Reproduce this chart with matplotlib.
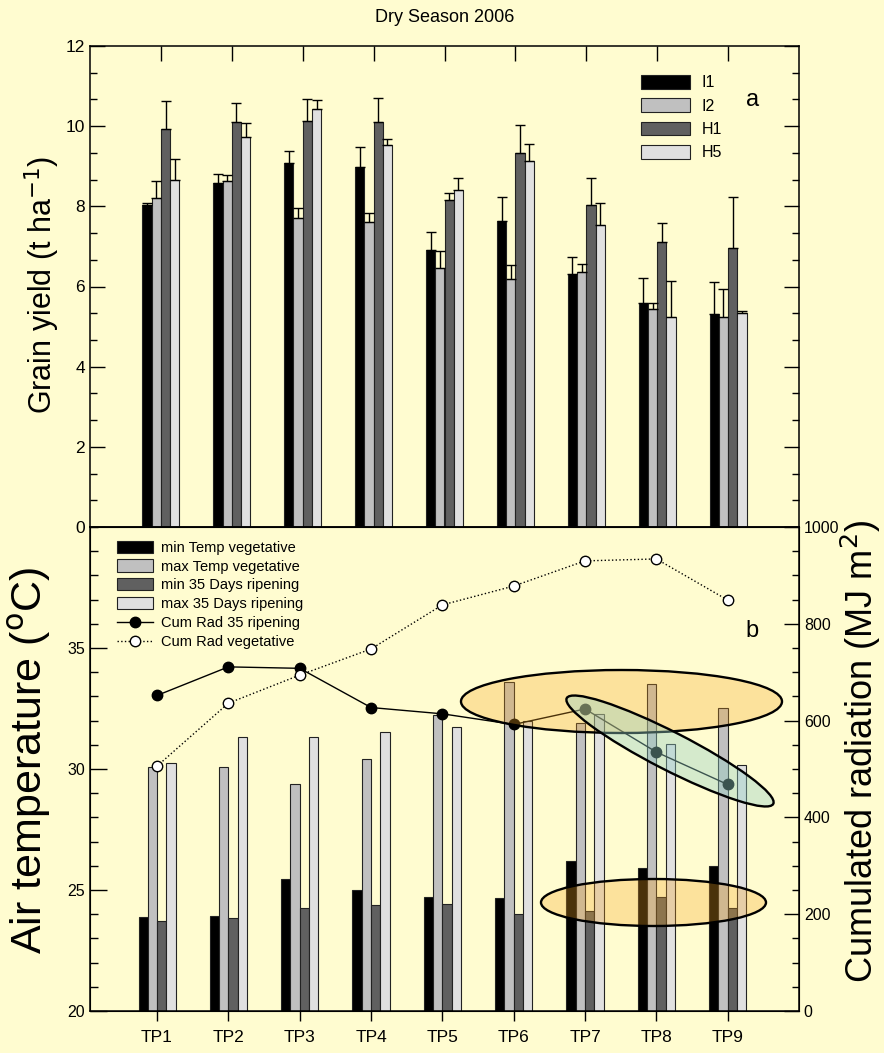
import matplotlib
matplotlib.use('Agg')
import matplotlib.pyplot as plt
import numpy as np
from matplotlib.patches import Ellipse
from matplotlib.ticker import MultipleLocator

plt.rcParams['font.family'] = ['Liberation Sans', 'DejaVu Sans']

# ---------------- data ----------------
points = ['TP1', 'TP2', 'TP3', 'TP4', 'TP5', 'TP6', 'TP7', 'TP8', 'TP9']

yield_I1 = [8.03, 8.58, 9.08, 8.98, 6.91, 7.63, 6.32, 5.59, 5.32]
yield_I2 = [8.20, 8.63, 7.71, 7.60, 6.47, 6.18, 6.35, 5.45, 5.25]
yield_H1 = [9.93, 10.11, 10.13, 10.11, 8.16, 9.34, 8.03, 7.10, 6.95]
yield_H5 = [8.66, 9.72, 10.43, 9.53, 8.40, 9.12, 7.54, 5.23, 5.35]

err_I1 = [0.05, 0.22, 0.29, 0.49, 0.44, 0.60, 0.42, 0.62, 0.78]
err_I2 = [0.42, 0.16, 0.25, 0.23, 0.41, 0.36, 0.21, 0.14, 0.70]
err_H1 = [0.71, 0.47, 0.55, 0.59, 0.17, 0.69, 0.68, 0.48, 1.28]
err_H5 = [0.52, 0.37, 0.22, 0.14, 0.30, 0.44, 0.54, 0.90, 0.05]

tmin_veg = [23.87, 23.91, 25.45, 25.02, 24.73, 24.66, 26.20, 25.89, 25.98]
tmax_veg = [30.07, 30.07, 29.38, 30.40, 32.25, 33.58, 31.89, 33.51, 32.50]
tmin_rip = [23.72, 23.85, 24.27, 24.36, 24.43, 24.01, 24.15, 24.70, 24.25]
tmax_rip = [30.26, 31.34, 31.33, 31.51, 31.74, 31.98, 32.27, 31.04, 30.15]

rad_rip = [652, 711, 708, 627, 614, 592, 624, 535, 468]
rad_veg = [506, 636, 694, 748, 839, 878, 930, 934, 849]

yield_names = ['I1', 'I2', 'H1', 'H5']
temp_names = ['min Temp vegetative', 'max Temp vegetative',
              'min 35 Days ripening', 'max 35 Days ripening']

# ---------------- style ----------------
BG = '#FFFCD0'
bar_colors = ['#000000', '#C0C0C0', '#606060', '#E0E0E0']
W, H = 884, 1053
fig = plt.figure(figsize=(W / 100, H / 100), dpi=100, facecolor=BG)

x = np.arange(1, len(points) + 1)
bw = 0.13

# ---------------- panel a ----------------
ax_a = fig.add_axes([90 / W, (H - 527) / H, 709 / W, 481 / H], facecolor=BG)
yield_vals = [yield_I1, yield_I2, yield_H1, yield_H5]
yield_errs = [err_I1, err_I2, err_H1, err_H5]
for k in range(4):
    ax_a.bar(x + (k - 1.5) * bw, yield_vals[k], bw, color=bar_colors[k],
             edgecolor='#222222', linewidth=0.8, label=yield_names[k],
             yerr=[np.zeros(len(points)), yield_errs[k]],
             error_kw=dict(ecolor='black', elinewidth=1, capsize=3.5, capthick=1))
ax_a.set_xlim(0, 10)
ax_a.set_ylim(0, 12)
ax_a.set_yticks(np.arange(0, 13, 2))
ax_a.yaxis.set_minor_locator(MultipleLocator(2 / 3))
ax_a.tick_params(axis='y', which='major', direction='in', left=True, right=True,
                 length=11, width=1, labelsize=12.5)
ax_a.tick_params(axis='y', which='minor', direction='in', left=True, right=True,
                 length=5, width=1)
ax_a.set_xticks(x)
ax_a.tick_params(axis='x', which='both', bottom=False, top=True, labelbottom=False,
                 direction='in', length=11, width=1)
for sp in ax_a.spines.values():
    sp.set_linewidth(1.1)
ax_a.legend(loc='upper left', bbox_to_anchor=(0.777, 0.94), frameon=False,
            fontsize=11.5, handlelength=3.1, handleheight=0.95,
            labelspacing=0.5, handletextpad=0.7, borderpad=0, borderaxespad=0)
ax_a.text(0.934, 0.888, 'a', transform=ax_a.transAxes, fontsize=17, ha='center', va='center')

fig.text(445 / W, 1 - 18 / H, 'Dry Season 2006', ha='center', va='center', fontsize=13)
fig.text(42 / W, 1 - 285 / H, 'Grain yield (t ha$^{-1}$)', rotation=90,
         ha='center', va='center', fontsize=22)

# ---------------- panel b ----------------
ax_b = fig.add_axes([90 / W, (H - 1011) / H, 709 / W, 484 / H], facecolor=BG)
temp_vals = [tmin_veg, tmax_veg, tmin_rip, tmax_rip]
bar_handles = []
for k in range(4):
    b = ax_b.bar(x + (k - 1.5) * bw, temp_vals[k], bw, color=bar_colors[k],
                 edgecolor='#222222', linewidth=0.8, label=temp_names[k])
    bar_handles.append(b)
ax_b.set_xlim(0.06, 10)
ax_b.set_ylim(20, 40)
ax_b.set_yticks([20, 25, 30, 35])
ax_b.yaxis.set_minor_locator(MultipleLocator(1))
ax_b.tick_params(axis='y', which='major', direction='in', left=True, right=False,
                 length=12, width=1, labelsize=11.5)
ax_b.tick_params(axis='y', which='minor', direction='in', left=True, right=False,
                 length=6, width=1)
ax_b.set_xticks(x)
ax_b.set_xticklabels(points, fontsize=12.5)
ax_b.tick_params(axis='x', which='both', bottom=True, top=False, direction='out',
                 length=7, width=1, pad=7)
for sp in ax_b.spines.values():
    sp.set_linewidth(1.1)

ax_r = ax_b.twinx()
ax_r.set_ylim(0, 1000)
ax_r.set_yticks(np.arange(0, 1001, 200))
ax_r.yaxis.set_minor_locator(MultipleLocator(50))
ax_r.tick_params(axis='y', which='major', direction='in', length=11, width=1, labelsize=11.5)
ax_r.tick_params(axis='y', which='minor', direction='in', length=5, width=1)
l1, = ax_r.plot(x, rad_rip, '-', color='black', lw=1, marker='o', ms=7.5,
                mfc='black', mec='black', label='Cum Rad 35 ripening')
l2, = ax_r.plot(x, rad_veg, ':', color='black', lw=1, marker='o', ms=7.5,
                mfc='white', mec='black', mew=1, label='Cum Rad vegetative')

ax_r.legend(handles=bar_handles + [l1, l2], loc='upper left',
            bbox_to_anchor=(0.038, 0.972), frameon=False, fontsize=10.5,
            handlelength=2.5, handleheight=0.9, labelspacing=0.33,
            handletextpad=0.55, borderpad=0, borderaxespad=0)
ax_r.text(0.934, 0.786, 'b', transform=ax_r.transAxes, fontsize=17, ha='center', va='center')

fig.text(30 / W, 1 - 760 / H, 'Air temperature ($^{\\rm o}$C)', rotation=90,
         ha='center', va='center', fontsize=31)
fig.text(861 / W, 1 - 752 / H, 'Cumulated radiation (MJ m$^{2}$)', rotation=90,
         ha='center', va='center', fontsize=26)

# ---------------- highlight ellipses (figure pixel positions) ----------------
def px_ellipse(cx, cy, w, h, angle, face):
    e = Ellipse((cx / 100, (H - cy) / 100), w / 100, h / 100, angle=angle,
                transform=fig.dpi_scale_trans, facecolor=face,
                edgecolor='black', linewidth=1.7, zorder=10, clip_on=False)
    ax_r.add_patch(e)

px_ellipse(621.5, 701.5, 321, 63, 0, (0.97, 0.65, 0.14, 0.30))
px_ellipse(653.5, 902.5, 225, 47, 0, (0.97, 0.65, 0.14, 0.30))
px_ellipse(670, 751, 232, 38, -27.1, (0.59, 0.82, 0.78, 0.40))

fig.savefig('out.png', dpi=100, facecolor=BG)
